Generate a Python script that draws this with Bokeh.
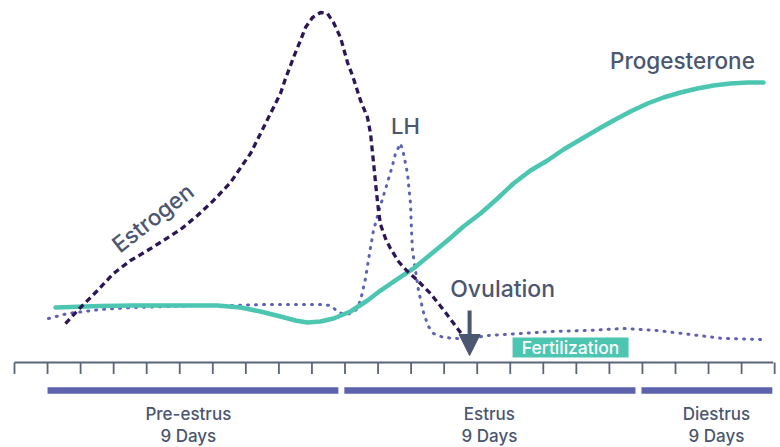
from bokeh.plotting import figure
from bokeh.models import Range1d, Arrow, NormalHead
from bokeh.core.properties import value
from bokeh.embed import file_html
from bokeh.resources import INLINE

# ---------------- data (x in days, y in relative hormone level) ----------------
estrogen_day = [1.543, 1.997, 2.511, 2.995, 3.510, 4.024, 4.508, 5.023, 5.537, 6.021, 6.536, 6.929,
                7.141, 7.595, 8.048, 8.200, 8.351, 8.502, 8.654, 8.805, 9.017, 9.259, 9.470, 9.652,
                9.864, 10.076, 10.227, 10.469, 10.681, 10.772, 10.832, 10.893, 10.953, 11.014, 11.074,
                11.225, 11.377, 11.619, 11.891, 12.133, 12.587, 13.041, 13.495, 13.676]
estrogen_lvl = [11.14, 15.71, 20.57, 25.43, 29.14, 32.0, 34.86, 38.0, 42.0, 46.29, 51.43, 56.86,
                59.71, 68.29, 76.86, 81.14, 84.86, 88.57, 92.0, 95.71, 98.57, 100.0, 99.71, 97.14,
                92.86, 85.71, 82.0, 74.86, 70.0, 65.43, 60.0, 54.29, 48.57, 43.43, 39.43,
                35.43, 32.57, 28.86, 26.0, 24.0, 19.71, 14.29, 8.57, 6.29]

lh_day = [1.029, 1.604, 2.602, 3.601, 4.629, 5.628, 6.626, 7.655, 8.654, 9.259, 9.561, 9.773,
          9.955, 10.166, 10.348, 10.469, 10.620, 10.772, 10.862, 11.074, 11.286, 11.437,
          11.528, 11.679, 11.770, 11.891, 11.982, 12.012, 12.042, 12.133, 12.224, 12.375, 12.526,
          12.678, 12.980, 13.404, 13.797, 14.312, 15.310, 16.309, 17.337, 18.427, 19.455, 20.454,
          21.452, 22.663]
lh_lvl = [12.57, 14.0, 15.14, 15.71, 16.0, 16.29, 16.29, 16.57, 16.57, 16.57, 16.29, 14.57,
          13.71, 14.0, 15.14, 17.71, 24.0, 32.86, 37.71, 44.86, 51.43, 56.29,
          59.71, 62.57, 59.71, 54.0, 45.43, 37.71, 32.0, 26.29, 20.57, 14.29, 10.29,
          8.29, 7.14, 6.86, 6.86, 7.71, 8.29, 8.86, 9.14, 9.71, 9.14, 8.0,
          6.86, 6.57]

prog_day = [1.241, 2.602, 3.601, 4.629, 5.628, 6.142, 6.838, 7.443, 8.048, 8.502, 8.865, 9.259,
            9.652, 10.166, 10.681, 11.074, 11.528, 12.073, 12.587, 13.101, 13.585, 14.100, 14.614,
            15.098, 15.613, 16.127, 16.611, 17.126, 17.640, 18.124, 18.638, 19.153, 19.637, 20.151,
            20.666, 21.150, 21.664, 22.179, 22.663]
prog_lvl = [15.71, 16.14, 16.29, 16.29, 16.29, 16.29, 15.71, 14.57, 13.14, 12.0, 11.43, 11.71,
            12.57, 14.57, 17.71, 20.57, 23.43, 26.86, 30.86, 34.86, 38.86, 42.57, 46.86,
            51.14, 54.86, 57.71, 60.86, 63.71, 66.57, 69.14, 71.71, 74.0, 75.71, 77.14,
            78.29, 79.14, 79.71, 80.0, 80.0]

tick_days = list(range(24))
axis_start, axis_end = 0, 22.96

phase_names = ["Pre-estrus", "Estrus", "Diestrus"]
phase_lengths = ["9 Days", "9 Days", "9 Days"]
phase_start = [1.0, 9.98, 18.97]
phase_end = [9.8, 18.79, 22.93]
phase_label_x = [5.26, 14.37, 21.24]

ovulation_day = 13.77
fert_start, fert_end = 15.07, 18.58

# ---------------- figure ----------------
W, H = 780, 447
PX_DAY, PX_LVL = 33.05, 3.5
x0 = -14 / PX_DAY
ytop = 362 / PX_LVL
p = figure(width=W, height=H, x_range=Range1d(x0, x0 + W / PX_DAY),
           y_range=Range1d(ytop - H / PX_LVL, ytop),
           output_backend="svg", toolbar_location=None, min_border=0,
           x_axis_location=None, y_axis_location=None)
p.grid.visible = False
p.outline_line_color = None
p.background_fill_color = "white"

TXT = "#4b5670"
FONT = value("Inter Medium, Inter")
AX = "#5b6579"

# timeline axis
p.line(x=[axis_start, axis_end], y=[0, 0], line_color=AX, line_width=2.2)
p.segment(x0=tick_days, y0=[0] * len(tick_days), x1=tick_days, y1=[-3.3] * len(tick_days),
          line_color=AX, line_width=1.8)

# phase bars
p.quad(left=phase_start, right=phase_end, top=-7.1, bottom=-8.9,
       fill_color="#5d62ad", line_color=None)
p.text(x=phase_label_x, y=[-14.6] * 3, text=phase_names, text_align="center",
       text_baseline="middle", text_font=FONT, text_font_size="17px", text_color=TXT)
p.text(x=phase_label_x, y=[-20.9] * 3, text=phase_lengths, text_align="center",
       text_baseline="middle", text_font=FONT, text_font_size="17px", text_color=TXT)

# hormone curves
p.line(x=lh_day, y=lh_lvl, line_color="#5c61b3", line_width=3, line_dash="1 7",
       line_cap="round")
p.line(x=prog_day, y=prog_lvl, line_color="#4cc6b1", line_width=4.5, line_cap="round",
       line_join="round")
p.line(x=estrogen_day, y=estrogen_lvl, line_color="#2c1656", line_width=3.3, line_dash="6 4")

# fertilization box
p.quad(left=[fert_start], right=[fert_end], top=[7.14], bottom=[1.43],
       fill_color="#4cc6b1", line_color=None)
p.text(x=[(fert_start + fert_end) / 2], y=[4.3], text=["Fertilization"], text_align="center",
       text_baseline="middle", text_font=FONT, text_font_size="17.5px", text_color="white")

# ovulation arrow
p.add_layout(Arrow(end=NormalHead(size=21, fill_color=TXT, line_color=TXT),
                   x_start=ovulation_day, y_start=14.86, x_end=ovulation_day, y_end=2.0,
                   line_color=TXT, line_width=4))

# labels
p.text(x=[20.21], y=[86.3], text=["Progesterone"], text_align="center", text_baseline="middle",
       text_font=FONT, text_font_size="22.5px", text_color=TXT)
p.text(x=[11.83], y=[67.7], text=["LH"], text_align="center", text_baseline="middle",
       text_font=FONT, text_font_size="22px", text_color=TXT)
p.text(x=[14.77], y=[20.9], text=["Ovulation"], text_align="center", text_baseline="middle",
       text_font=FONT, text_font_size="23px", text_color=TXT)
p.text(x=[4.18], y=[41.4], text=["Estrogen"], angle=0.663, text_align="center",
       text_baseline="middle", text_font=FONT, text_font_size="22.5px", text_color=TXT)

open("out.html", "w").write(file_html(p, INLINE))
